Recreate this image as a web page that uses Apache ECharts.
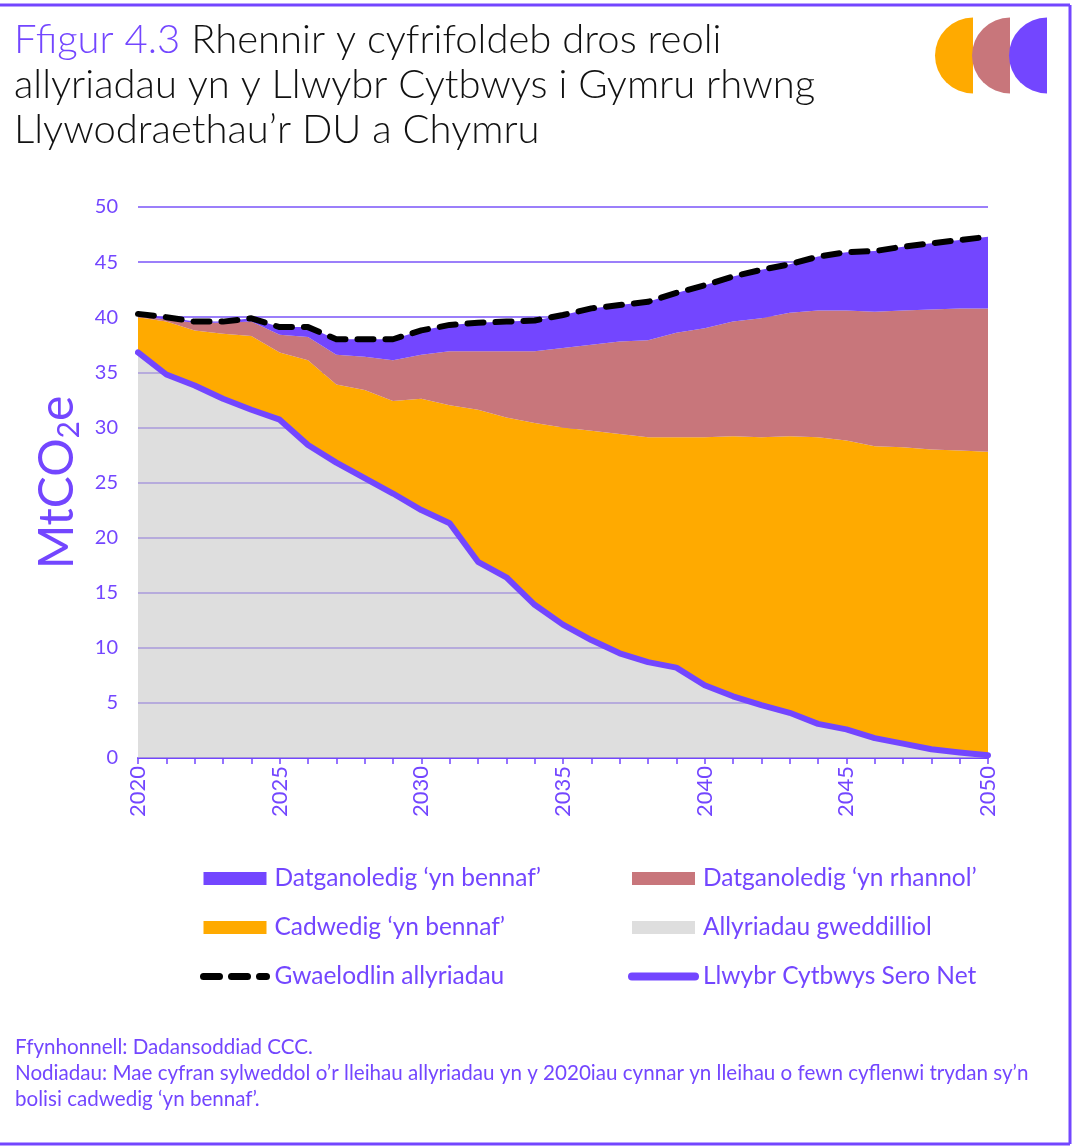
<!DOCTYPE html>
<html>
<head>
<meta charset="utf-8">
<script src="https://cdn.jsdelivr.net/npm/echarts@6/dist/echarts.min.js"></script>
<style>
  html, body { margin: 0; padding: 0; background: #ffffff; }
  #chart { width: 1074px; height: 1146px; }
</style>
</head>
<body>
<div id="chart"></div>
<script>
// Years on the horizontal axis
const years = ['2020','2021','2022','2023','2024','2025','2026','2027','2028','2029','2030',
  '2031','2032','2033','2034','2035','2036','2037','2038','2039','2040',
  '2041','2042','2043','2044','2045','2046','2047','2048','2049','2050'];

// Allyriadau gweddilliol (also the Balanced Net Zero pathway), MtCO2e
const residual = [36.8, 34.8, 33.8, 32.6, 31.6, 30.7, 28.4, 26.8, 25.4, 24.0, 22.5,
  21.3, 17.8, 16.4, 13.9, 12.1, 10.7, 9.5, 8.7, 8.2, 6.6,
  5.6, 4.8, 4.1, 3.1, 2.6, 1.8, 1.3, 0.8, 0.5, 0.25];

// Cadwedig 'yn bennaf'
const retained = [3.2, 4.8, 5.0, 5.9, 6.7, 6.1, 7.7, 7.1, 8.0, 8.4, 10.1,
  10.7, 13.8, 14.5, 16.5, 17.9, 19.0, 19.9, 20.4, 20.9, 22.5,
  23.6, 24.3, 25.1, 26.0, 26.2, 26.5, 26.9, 27.2, 27.4, 27.55];

// Datganoledig 'yn rhannol'
const partial = [0.1, 0.2, 0.7, 1.0, 1.3, 1.6, 2.1, 2.7, 3.0, 3.7, 4.0,
  4.9, 5.3, 6.0, 6.5, 7.2, 7.8, 8.4, 8.8, 9.5, 9.9,
  10.4, 10.8, 11.2, 11.5, 11.8, 12.2, 12.4, 12.7, 12.9, 13.0];

// Datganoledig 'yn bennaf'
const devolved = [0.2, 0.2, 0.1, 0.1, 0.3, 0.7, 0.9, 1.4, 1.6, 1.9, 2.2,
  2.4, 2.6, 2.7, 2.8, 3.0, 3.3, 3.3, 3.5, 3.6, 3.9,
  4.1, 4.4, 4.4, 4.9, 5.3, 5.5, 5.8, 6.0, 6.2, 6.5];

// Gwaelodlin allyriadau (baseline)
const baseline = [40.3, 40.0, 39.6, 39.6, 39.9, 39.1, 39.1, 38.0, 38.0, 38.0, 38.8,
  39.3, 39.5, 39.6, 39.7, 40.2, 40.8, 41.1, 41.4, 42.2, 42.9,
  43.7, 44.3, 44.8, 45.5, 45.9, 46.0, 46.4, 46.7, 47.0, 47.3];

// Value axis ticks
const yTicks = { min: 0, max: 50, step: 5 };

const PURPLE = '#7346ff';
const ORANGE = '#ffaa00';
const PINK = '#c8767b';
const GREY = '#dedede';
const FONT = 'Lato, "Noto Sans", sans-serif';
const CLEAR = 'rgba(0,0,0,0)';

const names = {
  devolved: 'Datganoledig ‘yn bennaf’',
  partial: 'Datganoledig ‘yn rhannol’',
  retained: 'Cadwedig ‘yn bennaf’',
  residual: 'Allyriadau gweddilliol',
  baseline: 'Gwaelodlin allyriadau',
  netZero: 'Llwybr Cytbwys Sero Net'
};

const BASE_DASH = [16, 12];

function areaSeries(name, data, color, opacity) {
  return {
    name: name, type: 'line', stack: 'total', data: data,
    symbol: 'none', showSymbol: false,
    lineStyle: { width: 0, color: color },
    itemStyle: { color: color },
    areaStyle: { color: color, opacity: opacity },
    emphasis: { disabled: true },
    z: 2
  };
}

const chart = echarts.init(document.getElementById('chart'), null, { renderer: 'canvas' });

const legendText = { color: PURPLE, fontSize: 24.5, fontFamily: FONT, padding: [0, 0, 0, 3], lineHeight: 22 };

chart.setOption({
  animation: false,
  backgroundColor: '#ffffff',
  grid: { left: 138, right: 86, top: 207, bottom: 388, containLabel: false },
  legend: [
    {
      orient: 'vertical', left: 195, top: 861, itemWidth: 63, itemHeight: 13, itemGap: 24,
      textStyle: legendText, selectedMode: false,
      data: [
        { name: names.devolved, icon: 'rect', itemStyle: { color: PURPLE } },
        { name: names.retained, icon: 'rect', itemStyle: { color: ORANGE } },
        {
          name: names.baseline,
          itemStyle: { color: CLEAR, borderColor: CLEAR, opacity: 0 },
          lineStyle: { color: '#000000', width: 7, type: BASE_DASH, cap: 'round' }
        }
      ]
    },
    {
      orient: 'vertical', left: 623, top: 861, itemWidth: 63, itemHeight: 13, itemGap: 24,
      textStyle: legendText, selectedMode: false,
      data: [
        { name: names.partial, icon: 'rect', itemStyle: { color: PINK } },
        { name: names.residual, icon: 'rect', itemStyle: { color: GREY, opacity: 1 } },
        {
          name: names.netZero,
          itemStyle: { color: CLEAR, borderColor: CLEAR, opacity: 0 },
          lineStyle: { color: PURPLE, width: 8, cap: 'round' }
        }
      ]
    }
  ],
  xAxis: {
    type: 'category', data: years, boundaryGap: false,
    axisLine: { show: true, lineStyle: { color: PURPLE, width: 2 } },
    axisTick: { show: true, interval: 0, length: 6, lineStyle: { color: PURPLE, width: 1.5 } },
    axisLabel: { interval: 4, rotate: 90, color: PURPLE, fontSize: 22, fontFamily: FONT, margin: 8 },
    splitLine: { show: false }
  },
  yAxis: {
    type: 'value', min: yTicks.min, max: yTicks.max, interval: yTicks.step,
    axisLine: { show: false }, axisTick: { show: false },
    axisLabel: { color: PURPLE, fontSize: 20, fontFamily: FONT, margin: 20 },
    splitLine: { lineStyle: { color: '#7a55f8', width: 1.5 } },
    name: '{a|MtCO}{b|2}{a|e}', nameLocation: 'middle', nameRotate: 90, nameGap: 48,
    nameTextStyle: {
      color: PURPLE, fontFamily: FONT,
      rich: {
        a: { fontSize: 48, color: PURPLE, fontFamily: FONT, lineHeight: 56 },
        b: { fontSize: 30, color: PURPLE, fontFamily: FONT, lineHeight: 56, padding: [22, 0, 0, 0] }
      }
    }
  },
  series: [
    areaSeries(names.residual, residual, 'rgb(200,200,200)', 0.6),
    areaSeries(names.retained, retained, ORANGE, 1),
    areaSeries(names.partial, partial, PINK, 1),
    areaSeries(names.devolved, devolved, PURPLE, 1),
    {
      name: names.baseline, type: 'line', data: baseline, symbol: 'none', showSymbol: false,
      lineStyle: { color: '#000000', width: 6, type: BASE_DASH, cap: 'round', join: 'round' },
      itemStyle: { color: '#000000' }, emphasis: { disabled: true }, z: 4
    },
    {
      name: names.netZero, type: 'line', data: residual, symbol: 'none', showSymbol: false,
      lineStyle: { color: PURPLE, width: 6, cap: 'round', join: 'round' },
      itemStyle: { color: PURPLE }, emphasis: { disabled: true }, z: 5
    }
  ],
  graphic: [
    // frame
    { type: 'line', shape: { x1: 0, y1: 5, x2: 1070, y2: 5 }, style: { stroke: PURPLE, lineWidth: 3 } },
    { type: 'line', shape: { x1: 1070, y1: 5, x2: 1070, y2: 1144 }, style: { stroke: PURPLE, lineWidth: 3 } },
    { type: 'line', shape: { x1: 0, y1: 1144, x2: 1070, y2: 1144 }, style: { stroke: PURPLE, lineWidth: 3 } },
    // emblem
    { type: 'sector', shape: { cx: 973, cy: 55.5, r: 38, startAngle: Math.PI / 2, endAngle: Math.PI * 1.5, clockwise: true }, style: { fill: ORANGE } },
    { type: 'sector', shape: { cx: 1010, cy: 55.5, r: 38, startAngle: Math.PI / 2, endAngle: Math.PI * 1.5, clockwise: true }, style: { fill: PINK } },
    { type: 'sector', shape: { cx: 1047, cy: 55.5, r: 38, startAngle: Math.PI / 2, endAngle: Math.PI * 1.5, clockwise: true }, style: { fill: PURPLE } },
    // heading
    {
      type: 'text', left: 14, top: 18,
      style: {
        text: '{p|Ffigur 4.3} Rhennir y cyfrifoldeb dros reoli\nallyriadau yn y Llwybr Cytbwys i Gymru rhwng\nLlywodraethau’r DU a Chymru',
        fill: '#111111', fontSize: 40, fontWeight: 300, fontFamily: FONT, lineHeight: 45,
        rich: { p: { fill: PURPLE, fontSize: 40, fontWeight: 300, fontFamily: FONT, lineHeight: 45 } }
      }
    },
    // source and notes
    {
      type: 'text', left: 15, top: 1034,
      style: {
        text: 'Ffynhonnell: Dadansoddiad CCC.\nNodiadau: Mae cyfran sylweddol o’r lleihau allyriadau yn y 2020iau cynnar yn lleihau o fewn cyflenwi trydan sy’n\nbolisi cadwedig ‘yn bennaf’.',
        fill: PURPLE, fontSize: 20.6, fontFamily: FONT, lineHeight: 26
      }
    }
  ]
});
</script>
</body>
</html>
